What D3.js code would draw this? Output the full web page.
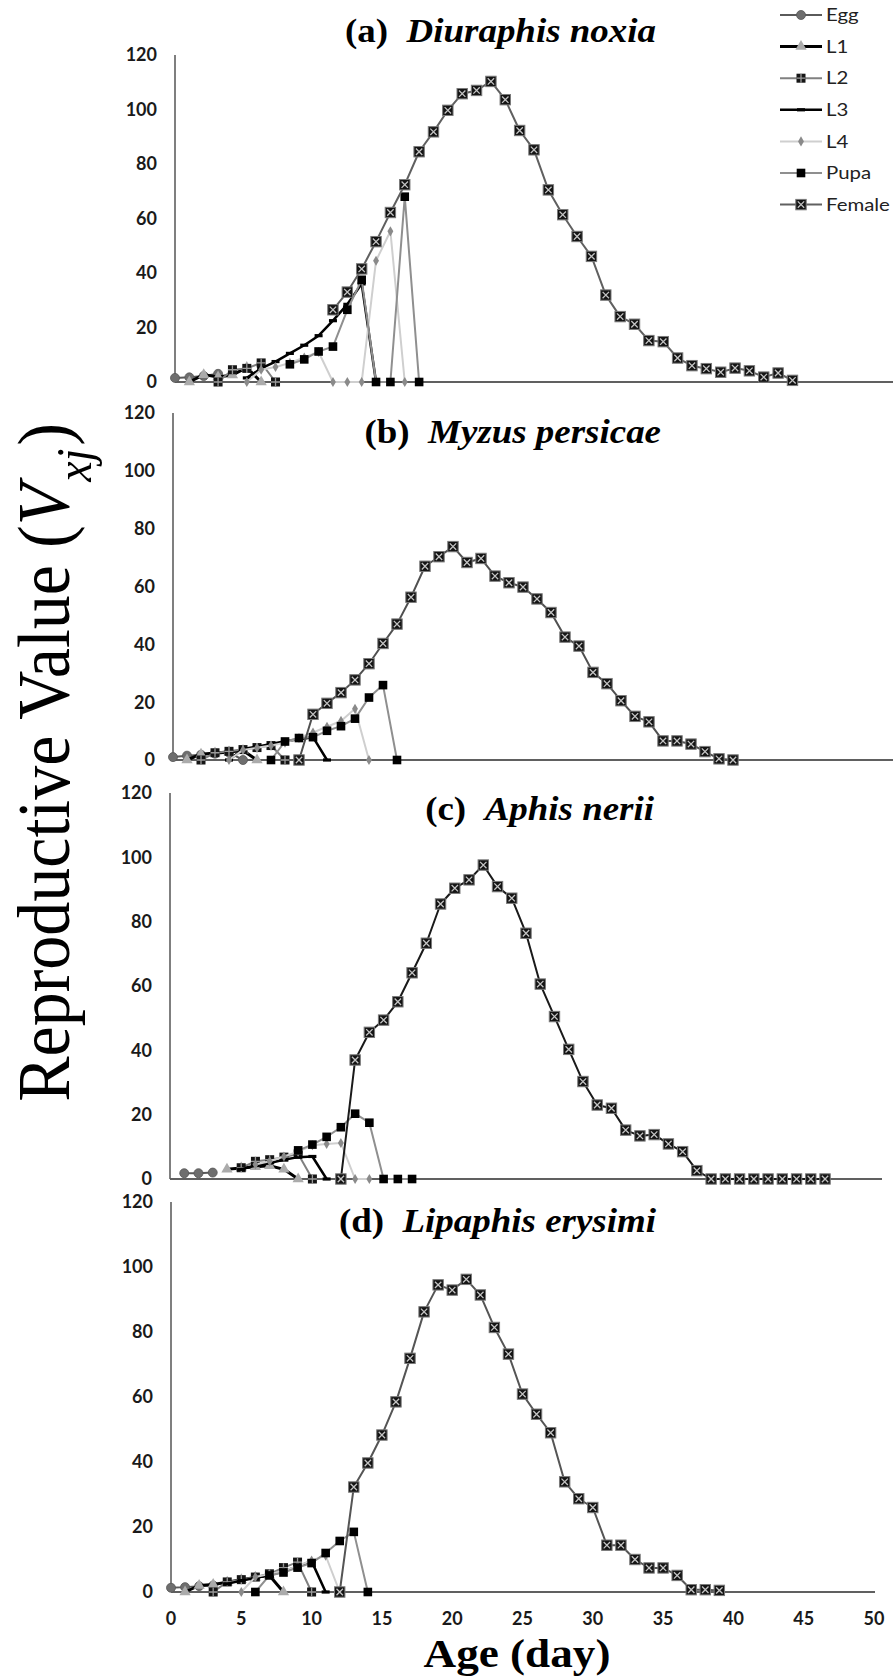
<!DOCTYPE html>
<html><head><meta charset="utf-8">
<script src="https://cdn.jsdelivr.net/npm/d3@7"></script>
<style>body{margin:0;background:#fff}svg{display:block}</style>
</head><body>
<svg id="chart" width="893" height="1680"></svg>
<script>
// ---------- data ----------
const stages = ["Egg", "L1", "L2", "L3", "L4", "Pupa", "Female"];
const yTicks = [0, 20, 40, 60, 80, 100, 120];
const ageTicks = [0, 5, 10, 15, 20, 25, 30, 35, 40, 45, 50];
const panelLetters = ["(a)", "(b)", "(c)", "(d)"];
const panelSpecies = ["Diuraphis noxia", "Myzus persicae", "Aphis nerii", "Lipaphis erysimi"];

// (a) Diuraphis noxia  [age, Vxj]
const aEgg = [[0,1.5],[1,1.7],[2,2.2],[3,3.0]];
const aL1 = [[1,0],[2,2.7],[3,1.8],[4,2.6],[5,5.3],[6,0]];
const aL2 = [[3,0],[4,4.5],[5,5.0],[6,7.0],[7,0]];
const aL3 = [[5,1.5],[6,5.0],[7,7.5],[8,10.5],[9,13.5],[10,17],[11,22.5],[12,28.5],[13,36],[14,0]];
const aL4 = [[5,0],[6,4.5],[7,5.5],[8,7],[9,9],[10,11],[11,0],[12,0],[13,0],[14,44.5],[15,55.3],[16,0]];
const aPupa = [[8,6.5],[9,8.3],[10,11.2],[11,13],[12,26.5],[13,37.5],[14,0],[15,0],[16,68],[17,0]];
const aFemale = [[11,26.5],[12,33],[13,41.5],[14,51.5],[15,62.2],[16,72.4],[17,84.5],[18,91.8],[19,99.7],[20,105.8],[21,107],[22,110.3],[23,103.6],[24,92.3],[25,85.2],[26,70.5],[27,61.4],[28,53.4],[29,46.1],[30,31.9],[31,24],[32,21.2],[33,15.2],[34,14.8],[35,8.8],[36,6],[37,4.9],[38,3.6],[39,5.1],[40,4.1],[41,1.8],[42,3.3],[43,0.6]];

// (b) Myzus persicae
const bEgg = [[0,1.0],[1,1.5],[2,1.8],[3,2.2],[4,2.6],[5,0]];
const bL1 = [[1,0],[2,2.0],[3,2.4],[4,2.8],[5,3.3],[6,0]];
const bL2 = [[2,0],[3,2.5],[4,3.0],[5,3.6],[6,4.3],[7,5.0],[8,0]];
const bL3 = [[4,0],[5,3.8],[6,4.6],[7,5.5],[8,6.5],[9,7.2],[10,7.9],[11,0]];
const bL4 = [[4,0],[5,3.5],[6,4.2],[7,5.0],[8,6.0],[9,7.6],[10,9.5],[11,11.5],[12,13.5],[13,17.7],[14,0]];
const bPupa = [[7,0],[8,6.4],[9,7.6],[10,7.9],[11,10.1],[12,11.7],[13,14.3],[14,21.6],[15,25.9],[16,0]];
const bFemale = [[9,0],[10,15.8],[11,19.6],[12,23.3],[13,27.7],[14,33.3],[15,40.3],[16,47],[17,56.3],[18,67],[19,70.3],[20,73.8],[21,68.3],[22,69.7],[23,63.6],[24,61.3],[25,59.8],[26,55.7],[27,51],[28,42.5],[29,39.4],[30,30.3],[31,26.4],[32,20.5],[33,15.1],[34,13.2],[35,6.6],[36,6.6],[37,5.5],[38,2.9],[39,0.4],[40,0]];

// (c) Aphis nerii
const cEgg = [[1,1.8],[2,1.8],[3,2.0]];
const cL1 = [[4,3.0],[5,3.4],[6,3.8],[7,4.1],[8,3.0],[9,0]];
const cL2 = [[5,3.5],[6,5.5],[7,6.0],[8,6.8],[9,7.8],[10,0]];
const cL3 = [[5,3.0],[6,4.2],[7,5.0],[8,6.0],[9,6.8],[10,7.0],[11,0]];
const cL4 = [[6,4.5],[7,5.5],[8,7.0],[9,8.5],[10,10.5],[11,10.9],[12,11.2],[13,0],[14,0]];
const cPupa = [[9,8.9],[10,10.7],[11,13.1],[12,16.1],[13,20.3],[14,17.5],[15,0],[16,0],[17,0]];
const cFemale = [[12,0],[13,37],[14,45.6],[15,49.4],[16,55.1],[17,64.1],[18,73.3],[19,85.5],[20,90.4],[21,93],[22,97.6],[23,90.9],[24,87.3],[25,76.4],[26,60.6],[27,50.5],[28,40.3],[29,30.3],[30,23],[31,22],[32,15.2],[33,13.4],[34,13.8],[35,10.9],[36,8.5],[37,2.6],[38,0],[39,0],[40,0],[41,0],[42,0],[43,0],[44,0],[45,0],[46,0]];

// (d) Lipaphis erysimi
const dEgg = [[0,1.3],[1,1.5],[2,1.8],[3,2.0]];
const dL1 = [[1,0],[2,2.0],[3,2.3],[4,3.0],[5,3.8],[6,4.5],[7,5.1],[8,0]];
const dL2 = [[3,0],[4,3.1],[5,3.8],[6,4.6],[7,5.6],[8,7.5],[9,9.2],[10,0]];
const dL3 = [[4,2.5],[5,3.5],[6,4.3],[7,5.2],[8,6.3],[9,7.8],[10,9.5],[11,0]];
const dL4 = [[5,0],[6,4.6],[7,5.5],[8,6.5],[9,8],[10,9.7],[11,11.2],[12,0]];
const dPupa = [[6,0],[7,5.1],[8,6],[9,7.5],[10,8.9],[11,12],[12,15.7],[13,18.5],[14,0]];
const dFemale = [[12,0],[13,32.3],[14,39.7],[15,48.3],[16,58.5],[17,71.9],[18,86.2],[19,94.5],[20,92.9],[21,96.2],[22,91.4],[23,81.4],[24,73.2],[25,60.9],[26,54.7],[27,49],[28,33.9],[29,28.7],[30,26],[31,14.4],[32,14.4],[33,10],[34,7.4],[35,7.4],[36,5.1],[37,0.7],[38,0.7],[39,0.5]];

const panelSeries = [
  [aEgg, aL1, aL2, aL3, aL4, aPupa, aFemale],
  [bEgg, bL1, bL2, bL3, bL4, bPupa, bFemale],
  [cEgg, cL1, cL2, cL3, cL4, cPupa, cFemale],
  [dEgg, dL1, dL2, dL3, dL4, dPupa, dFemale]
];

// ---------- layout / style ----------
const layout = [
  {x0:175, x1:893, axisEnd:893, y0:382, y1:55,   titleX:656, titleY:42,   femaleColor:"#606060"},
  {x0:173, x1:873, axisEnd:893, y0:760, y1:413,  titleX:661, titleY:443,  femaleColor:"#505050"},
  {x0:170, x1:882, axisEnd:882, y0:1179, y1:793, titleX:654, titleY:820,  femaleColor:"#1a1a1a"},
  {x0:171, x1:874, axisEnd:875, y0:1592, y1:1202, titleX:656, titleY:1232, femaleColor:"#555555"}
];
const lineStyle = [
  {color:"#5a5a5a", w:2},
  {color:"#000000", w:3},
  {color:"#808080", w:2},
  {color:"#000000", w:2.5},
  {color:"#cfcfcf", w:2},
  {color:"#8f8f8f", w:2},
  {color:"#5a5a5a", w:2}
];
const serif = "'Liberation Serif', 'Times New Roman', serif";
const sans = "Lato, 'Open Sans', sans-serif";

const svg = d3.select("#chart");
svg.append("rect").attr("width", 893).attr("height", 1680).attr("fill", "#fff");

function marker(g, s, cx, cy) {
  const m = g.append("g").attr("transform", `translate(${cx},${cy})`);
  if (s === 0) {
    m.append("circle").attr("r", 4.5).attr("fill", "#6e6e6e").attr("stroke", "#555").attr("stroke-width", 0.8);
  } else if (s === 1) {
    m.append("path").attr("d", d3.symbol(d3.symbolTriangle, 55)()).attr("fill", "#ababab");
  } else if (s === 2) {
    m.append("rect").attr("x", -4.5).attr("y", -4.5).attr("width", 9).attr("height", 9).attr("fill", "#151515");
    m.append("path").attr("d", "M-4.5,0H4.5M0,-4.5V4.5").attr("stroke", "#9a9a9a").attr("stroke-width", 1.3);
  } else if (s === 3) {
    m.append("rect").attr("x", -4).attr("y", -1.6).attr("width", 8).attr("height", 3.2).attr("fill", "#000");
  } else if (s === 4) {
    m.append("path").attr("d", d3.symbol(d3.symbolDiamond, 30)()).attr("fill", "#8a8a8a");
  } else if (s === 5) {
    m.append("rect").attr("x", -4.3).attr("y", -4.3).attr("width", 8.6).attr("height", 8.6).attr("fill", "#000");
  } else {
    m.append("rect").attr("x", -5.2).attr("y", -5.2).attr("width", 10.4).attr("height", 10.4)
      .attr("fill", "#141414").attr("stroke", "#7a7a7a").attr("stroke-width", 1);
    m.append("path").attr("d", "M-3.2,-3.2L3.2,3.2M-3.2,3.2L3.2,-3.2").attr("stroke", "#c4c4c4").attr("stroke-width", 1.3);
  }
}

panelSeries.forEach((series, p) => {
  const L = layout[p];
  const x = d3.scaleLinear().domain([0, 50]).range([L.x0, L.x1]);
  const y = d3.scaleLinear().domain([0, 120]).range([L.y0, L.y1]);
  const g = svg.append("g");

  // y axis line and labels
  g.append("line").attr("x1", x(0)).attr("x2", x(0)).attr("y1", y(0)).attr("y2", y(120))
    .attr("stroke", "#555").attr("stroke-width", 1.5);
  g.selectAll("text.yt").data(yTicks).enter().append("text")
    .attr("x", x(0) - 18).attr("y", d => y(d)).attr("dy", "0.36em")
    .attr("text-anchor", "end").attr("font-family", sans)
    .attr("font-weight", 700).attr("font-size", 18).attr("fill", "#1a1a1a").text(d => d);

  // x axis line
  g.append("line").attr("x1", x(0)).attr("x2", L.axisEnd).attr("y1", y(0)).attr("y2", y(0))
    .attr("stroke", "#606060").attr("stroke-width", 2);

  if (p === 3) {
    g.selectAll("text.xt").data(ageTicks).enter().append("text")
      .attr("x", d => x(d)).attr("y", y(0) + 27).attr("dy", "0.36em")
      .attr("text-anchor", "middle").attr("font-family", sans)
      .attr("font-weight", 700).attr("font-size", 18).attr("fill", "#1a1a1a").text(d => d);
  }

  // title
  const t = g.append("text").attr("transform", `translate(${L.titleX},${L.titleY}) scale(1.12,1)`)
    .attr("text-anchor", "end").attr("font-family", serif).attr("font-weight", 700)
    .attr("font-size", 33).attr("fill", "#000").style("white-space", "pre");
  t.append("tspan").text(panelLetters[p] + "  ");
  t.append("tspan").attr("font-style", "italic").text(panelSpecies[p]);

  // series
  const line = d3.line().x(d => x(d[0])).y(d => y(d[1]));
  series.forEach((data, s) => {
    const st = lineStyle[s];
    g.append("path").attr("d", line(data)).attr("fill", "none")
      .attr("stroke", s === 6 ? L.femaleColor : st.color).attr("stroke-width", st.w)
      .attr("stroke-linejoin", "round");
    data.forEach(d => marker(g, s, x(d[0]), y(d[1])));
  });
});

// legend
const lg = svg.append("g");
stages.forEach((name, s) => {
  const ly = 15 + s * 31.6;
  const st = lineStyle[s];
  lg.append("line").attr("x1", 780).attr("x2", 822).attr("y1", ly).attr("y2", ly)
    .attr("stroke", s === 6 ? "#606060" : st.color).attr("stroke-width", st.w);
  marker(lg, s, 801, ly);
  lg.append("text").attr("transform", `translate(826,${ly}) scale(1.2,1)`).attr("dy", "0.36em")
    .attr("font-family", sans).attr("font-size", 17)
    .attr("fill", "#222").text(name);
});

// axis titles
const yl = svg.append("text").attr("transform", "translate(69,423) scale(1.1,1) rotate(-90)")
  .attr("text-anchor", "end").attr("font-family", serif)
  .attr("font-size", 68).attr("fill", "#000").style("white-space", "pre");
yl.append("tspan").text("Reproductive Value (");
yl.append("tspan").attr("font-style", "italic").text("V");
yl.append("tspan").attr("font-style", "italic").attr("font-size", 46).attr("dy", 20).attr("dx", 2).text("xj");
yl.append("tspan").attr("dy", -20).attr("dx", 3).text(")");

svg.append("text").attr("transform", "translate(517,1667) scale(1.13,1)").attr("text-anchor", "middle")
  .attr("font-family", serif).attr("font-weight", 700)
  .attr("font-size", 40).attr("fill", "#000").text("Age (day)");
</script>
</body></html>
